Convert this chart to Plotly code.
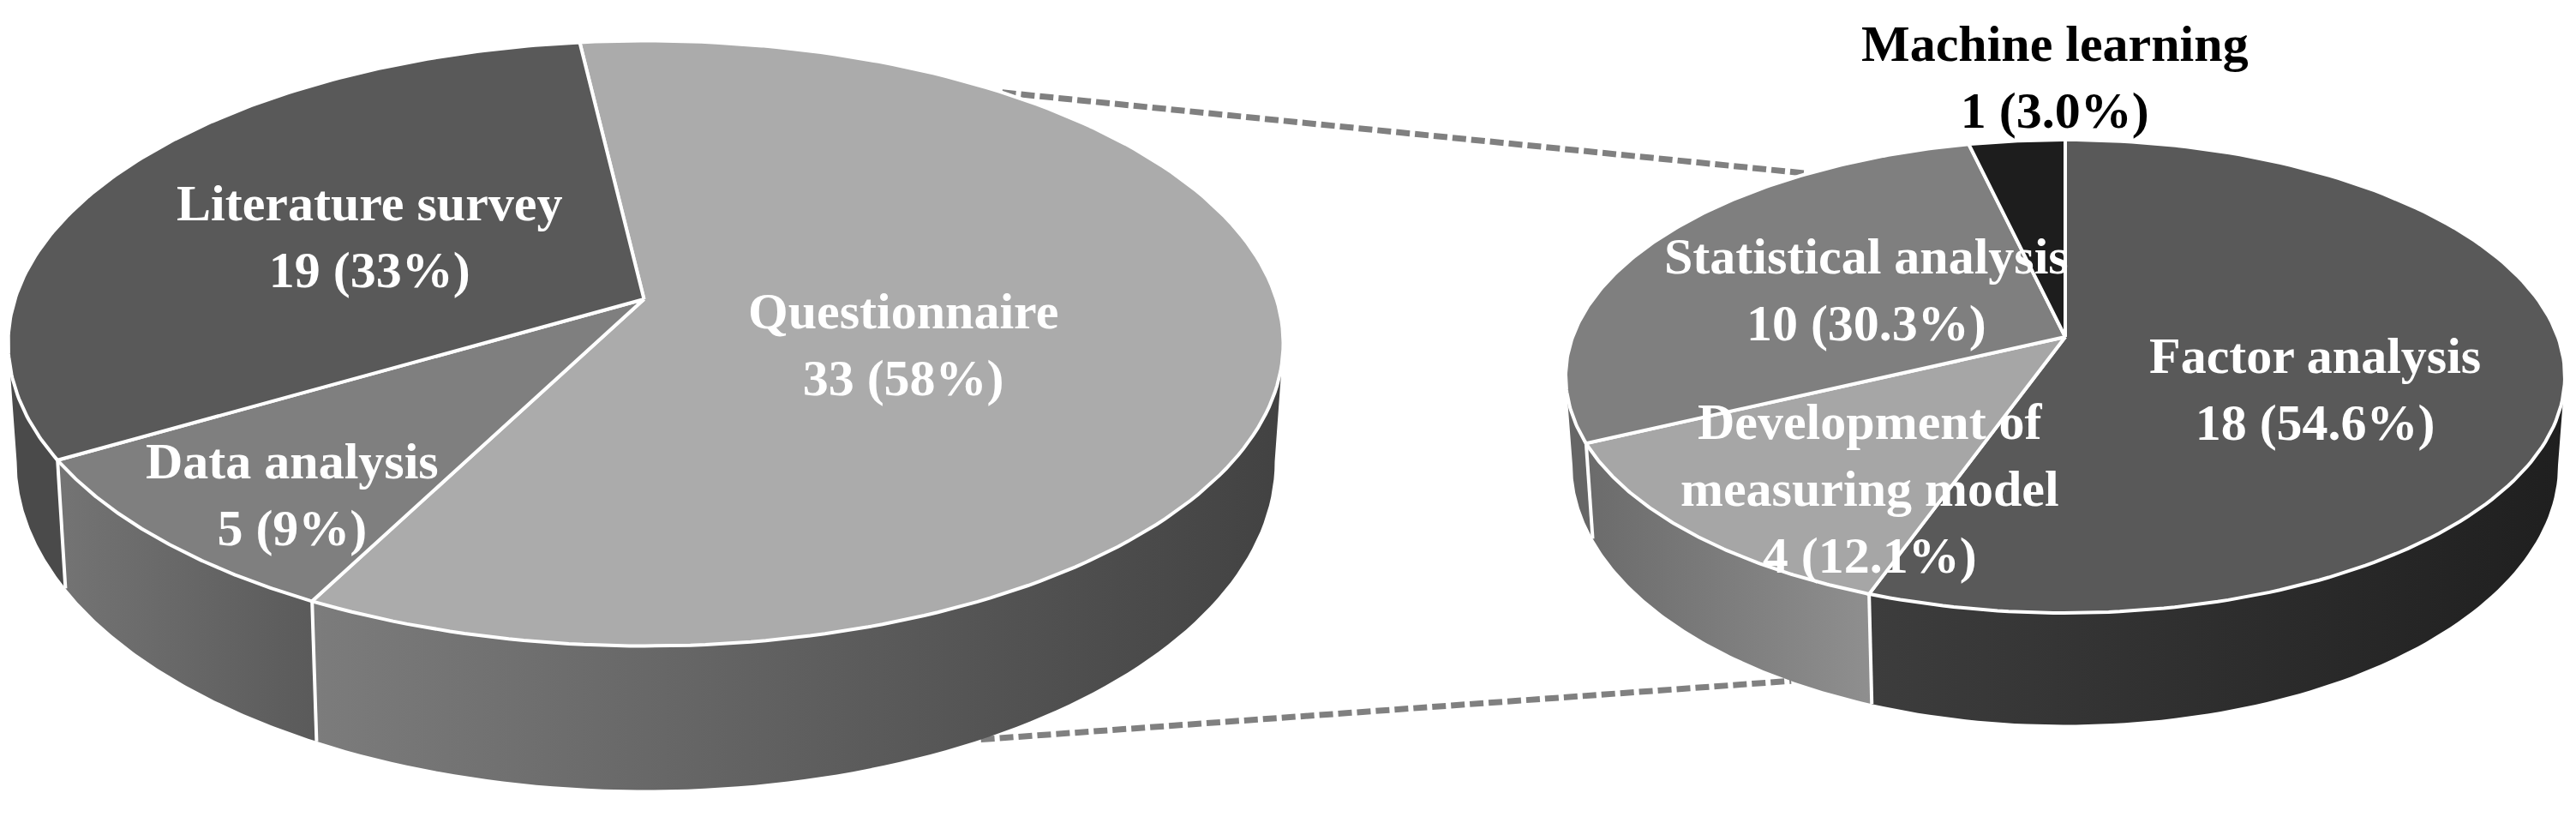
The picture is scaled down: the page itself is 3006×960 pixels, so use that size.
import numpy as np
import plotly.graph_objects as go

# main pie, clockwise from the top
main_labels = ["Questionnaire", "Data analysis", "Literature survey"]
main_values = [33, 5, 19]
main_pct = ["58%", "9%", "33%"]

# breakdown of the questionnaire slice
detail_labels = ["Factor analysis", "Development of<br>measuring model", "Statistical analysis", "Machine learning"]
detail_values = [18, 4, 10, 1]
detail_pct = ["54.6%", "12.1%", "30.3%", "3.0%"]

main_top = ["#ababab", "#7f7f7f", "#595959"]
main_side = [["#7c7c7c", "#424242"], ["#747474", "#5a5a5a"], ["#4a4a4a", "#4a4a4a"]]
detail_top = ["#595959", "#a6a6a6", "#7f7f7f", "#1d1d1d"]
detail_side = [["#3d3d3d", "#1f1f1f"], ["#6b6b6b", "#8f8f8f"], ["#666666", "#666666"], ["#222222", "#222222"]]

# pixel geometry of the two tilted discs (perspective: apex sits above the ellipse centre)
MAIN = dict(apex=(751.5, 349), top=(753.5, 400.5, 744, 353), bottom=(753.5, 538.5, 734, 383), start=-5.5)
DETAIL = dict(apex=(2410, 393), top=(2410, 439, 583, 276), bottom=(2410, 542.5, 575, 303), start=0)
TILT = 2.6
FONT = "Liberation Serif"
BODY_MARGIN = 8  # browser default margin around the plot div


def ellipse_xy(ell, t):
    cx, cy, rx, ry = ell
    t = np.radians(t)
    return cx + rx * np.sin(t), cy - ry * np.cos(t)


def angle_on_rim(pie, theta):
    """Ellipse parameter where the ray from the apex at pie angle theta meets the rim."""
    ax, ay = pie["apex"]
    cx, cy, rx, ry = pie["top"]
    dx = TILT * np.sin(np.radians(theta)) / rx
    dy = -np.cos(np.radians(theta)) / ry
    px = (ax - cx) / rx
    py = (ay - cy) / ry
    a = dx**2 + dy**2
    b = 2 * (px * dx + py * dy)
    c = px**2 + py**2 - 1
    s = (-b + np.sqrt(b**2 - 4 * a * c)) / (2 * a)
    return np.degrees(np.arctan2(px + s * dx, -(py + s * dy)))


def add_pie(fig, pie, values, top_colors, side_colors):
    edges = pie["start"] + np.cumsum([0] + list(values)) * 360 / sum(values)
    # keep rim angles increasing clockwise
    rims = [angle_on_rim(pie, edges[0])]
    for e in edges[1:-1]:
        rims.append(rims[-1] + (angle_on_rim(pie, e) - rims[-1]) % 360)
    rims.append(rims[0] + 360)

    # walls first, only the front half of the disc shows
    seams = ([], [])
    for i in range(len(values)):
        t1, t2 = max(rims[i], 90), min(rims[i + 1], 270)
        if t1 < t2:
            arc = np.linspace(t1, t2, 80)
            x1, y1 = ellipse_xy(pie["top"], arc)
            x2, y2 = ellipse_xy(pie["bottom"], arc[::-1])
            fig.add_trace(go.Scatter(
                x=np.r_[x1, x2], y=np.r_[y1, y2], mode="lines", fill="toself",
                line=dict(width=0),
                fillgradient=dict(type="horizontal", colorscale=[[0, side_colors[i][0]], [1, side_colors[i][1]]]),
            ))
        if 90 < rims[i + 1] < 270:
            for ell in (pie["top"], pie["bottom"]):
                x, y = ellipse_xy(ell, rims[i + 1])
                seams[0].append(x)
                seams[1].append(y)
            seams[0].append(None)
            seams[1].append(None)
    fig.add_trace(go.Scatter(x=seams[0], y=seams[1], mode="lines", line=dict(color="white", width=4)))

    for i in range(len(values)):
        arc = np.linspace(rims[i], rims[i + 1], 160)
        x, y = ellipse_xy(pie["top"], arc)
        fig.add_trace(go.Scatter(
            x=np.r_[pie["apex"][0], x, pie["apex"][0]], y=np.r_[pie["apex"][1], y, pie["apex"][1]],
            mode="lines", fill="toself", fillcolor=top_colors[i],
            line=dict(color="white", width=4),
        ))


fig = go.Figure()

# dashed connectors between the discs
for a, b in ((ellipse_xy(MAIN["top"], 34), ellipse_xy(DETAIL["top"], -31)),
             (ellipse_xy(MAIN["bottom"], 147.8), ellipse_xy(DETAIL["bottom"], 213.8))):
    fig.add_trace(go.Scatter(
        x=[a[0], b[0]], y=[a[1], b[1]], mode="lines",
        line=dict(color="#808080", width=7, dash="16px,6px"),
    ))

add_pie(fig, MAIN, main_values, main_top, main_side)
add_pie(fig, DETAIL, detail_values, detail_top, detail_side)

# label centres in pixels
main_pos = [(1054, 402), (341, 577), (431, 276)]
detail_pos = [(2701, 454), (2182, 570), (2178, 338), (2398, 90)]

for label, val, pct, pos in zip(main_labels, main_values, main_pct, main_pos):
    fig.add_annotation(x=pos[0], y=pos[1], text=f"{label}<br>{val} ({pct})", showarrow=False,
                       font=dict(family=FONT, size=60, color="white", weight="bold"))
for label, val, pct, pos in zip(detail_labels, detail_values, detail_pct, detail_pos):
    color = "black" if label == "Machine learning" else "white"
    fig.add_annotation(x=pos[0], y=pos[1], text=f"{label}<br>{val} ({pct})", showarrow=False,
                       font=dict(family=FONT, size=60, color=color, weight="bold"))

plot_w = 3006 - 2 * BODY_MARGIN
plot_h = 960 - 2 * BODY_MARGIN
fig.update_layout(
    width=plot_w, height=plot_h, margin=dict(l=0, r=0, t=0, b=0),
    showlegend=False, hovermode=False,
    paper_bgcolor="white", plot_bgcolor="white",
    xaxis=dict(range=[BODY_MARGIN, BODY_MARGIN + plot_w], visible=False),
    yaxis=dict(range=[BODY_MARGIN + plot_h, BODY_MARGIN], visible=False),
)
fig.write_html("out.html")
